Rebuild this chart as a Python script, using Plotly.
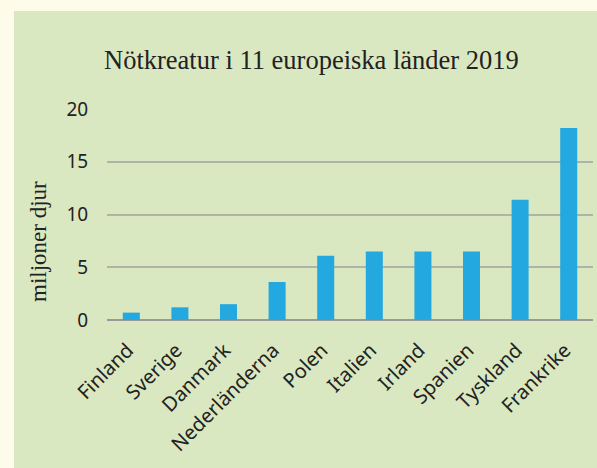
import plotly.graph_objects as go

countries = ["Finland", "Sverige", "Danmark", "Nederländerna", "Polen",
             "Italien", "Irland", "Spanien", "Tyskland", "Frankrike"]
cattle_millions = [0.7, 1.2, 1.5, 3.6, 6.1, 6.5, 6.5, 6.5, 11.4, 18.2]
y_ticks = [0, 5, 10, 15, 20]

W, H = 597, 468
L, R, T, B = 107, 4, 109, 148
pw = W - L - R
ph = H - T - B

def px_x(p):
    return (p - L) / pw

def px_y(p):
    return (H - B - p) / ph

fig = go.Figure()
fig.add_trace(go.Bar(
    x=countries, y=cattle_millions,
    marker=dict(color="#23a8e0", line=dict(width=0)),
    hoverinfo="skip",
))

cream = "#fffbea"
green = "#dae8c1"

fig.update_layout(
    width=W, height=H,
    margin=dict(l=L, r=R, t=T, b=B),
    paper_bgcolor=green,
    plot_bgcolor=green,
    bargap=0.65,
    showlegend=False,
    font=dict(family="Noto Sans", color="#222222", size=19),
    xaxis=dict(
        type="category",
        tickangle=-45,
        tickmode="array",
        tickvals=countries,
        ticktext=[c + "\u00a0" for c in countries],
        showgrid=False,
        showline=False,
        zeroline=False,
        ticks="outside", ticklen=6, tickcolor="rgba(0,0,0,0)",
        tickfont=dict(family="Noto Sans", size=20, color="#222222"),
        fixedrange=True,
    ),
    yaxis=dict(
        range=[0, 20],
        tickvals=y_ticks,
        showgrid=True,
        gridcolor="#b0b4a8",
        gridwidth=2,
        zeroline=True,
        zerolinecolor="#999999",
        zerolinewidth=2,
        showline=False,
        ticks="outside", ticklen=14, tickcolor="rgba(0,0,0,0)",
        tickfont=dict(family="Noto Sans", size=19, color="#222222"),
        fixedrange=True,
    ),
    shapes=[
        dict(type="rect", xref="paper", yref="paper", layer="below",
             x0=px_x(-5), x1=px_x(14), y0=px_y(H + 5), y1=px_y(-5),
             fillcolor=cream, line=dict(width=0)),
        dict(type="rect", xref="paper", yref="paper", layer="below",
             x0=px_x(-5), x1=px_x(W + 5), y0=px_y(11), y1=px_y(-5),
             fillcolor=cream, line=dict(width=0)),
    ],
    annotations=[
        dict(text="Nötkreatur i 11 europeiska länder 2019",
             xref="paper", yref="paper", x=px_x(311), y=px_y(60),
             xanchor="center", yanchor="middle", showarrow=False,
             font=dict(family="Liberation Serif", size=26.5, color="#222222")),
        dict(text="miljoner djur", textangle=-90,
             xref="paper", yref="paper", x=px_x(38), y=px_y(242),
             xanchor="center", yanchor="middle", showarrow=False,
             font=dict(family="Liberation Serif", size=23, color="#222222")),
    ],
)

fig.write_html(
    "out.html",
    config={"displayModeBar": False},
    post_script="document.body.style.margin='0';document.body.style.background='#fffbea';",
)
